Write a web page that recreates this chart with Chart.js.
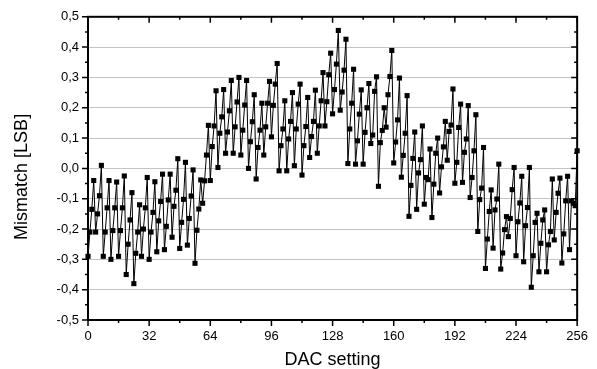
<!DOCTYPE html>
<html>
<head>
<meta charset="utf-8">
<title>DAC mismatch</title>
<script src="https://cdn.jsdelivr.net/npm/chart.js@4/dist/chart.umd.min.js"></script>
<style>
  html, body { margin: 0; padding: 0; background: #fff; }
  #wrap { width: 597px; height: 369px; position: relative; }
</style>
</head>
<body>
<div id="wrap"><canvas id="mismatch-chart"></canvas></div>
<script>
// ===============================================================================
// 1. Data (one value per DAC code)
// ===============================================================================
const dacCodes = Array.from({ length: 257 }, (_, i) => i);

const mismatchLsb = [
  -0.29, -0.21, -0.135, -0.04, -0.21, -0.15, -0.09, 0.01,        // 0
  -0.29, -0.21, -0.13, -0.04, -0.30, -0.205, -0.13, -0.045,      // 8
  -0.29, -0.205, -0.13, -0.025, -0.35, -0.25, -0.17, -0.08,      // 16
  -0.38, -0.28, -0.21, -0.12, -0.29, -0.20, -0.13, -0.03,        // 24
  -0.30, -0.21, -0.145, -0.044, -0.275, -0.173, -0.109, -0.019,  // 32
  -0.268, -0.191, -0.104, -0.019, -0.227, -0.125, -0.072, 0.032, // 40
  -0.264, -0.178, -0.102, 0.02, -0.253, -0.165, -0.091, -0.005,  // 48
  -0.313, -0.204, -0.134, -0.038, -0.115, -0.041, 0.044, 0.142,  // 56
  -0.04, 0.072, 0.14, 0.256, 0.003, 0.116, 0.17, 0.26,           // 64
  0.05, 0.12, 0.19, 0.29, 0.05, 0.137, 0.219, 0.30,              // 72
  0.044, 0.126, 0.209, 0.29, 0.0, 0.088, 0.154, 0.243,           // 80
  -0.035, 0.069, 0.126, 0.215, 0.044, 0.137, 0.215, 0.287,       // 88
  0.104, 0.208, 0.278, 0.346, -0.008, 0.075, 0.13, 0.223,        // 96
  -0.008, 0.097, 0.155, 0.25, 0.009, 0.13, 0.212, 0.278,         // 104
  -0.022, 0.075, 0.138, 0.234, 0.036, 0.105, 0.155, 0.258,       // 112
  0.05, 0.14, 0.223, 0.316, 0.14, 0.22, 0.309, 0.38,             // 120
  0.18, 0.26, 0.344, 0.455, 0.192, 0.252, 0.324, 0.426,          // 128
  0.016, 0.13, 0.215, 0.327, 0.014, 0.091, 0.179, 0.259,         // 136
  0.014, 0.119, 0.2, 0.28, 0.082, 0.11, 0.254, 0.302,            // 144
  -0.059, 0.085, 0.125, 0.2, 0.136, 0.243, 0.303, 0.389,         // 152
  0.018, 0.087, 0.16, 0.298, -0.029, 0.043, 0.116, 0.24,         // 160
  -0.158, -0.056, 0.033, 0.12, -0.135, -0.015, 0.029, 0.14,      // 168
  -0.118, -0.03, -0.037, 0.064, -0.162, -0.052, 0.05, 0.1,       // 176
  -0.081, 0.005, 0.071, 0.155, 0.027, 0.122, 0.143, 0.262,       // 184
  -0.049, 0.02, 0.135, 0.212, -0.046, 0.053, 0.097, 0.207,       // 192
  -0.096, -0.03, 0.058, 0.177, -0.208, -0.103, -0.065, 0.069,    // 200
  -0.33, -0.233, -0.142, -0.071, -0.263, -0.137, -0.101, 0.014,  // 208
  -0.332, -0.279, -0.202, -0.159, -0.225, -0.165, -0.07, 0.003,  // 216
  -0.288, -0.176, -0.114, -0.026, -0.308, -0.189, -0.129, 0.003, // 224
  -0.392, -0.288, -0.178, -0.148, -0.341, -0.247, -0.17, -0.137, // 232
  -0.341, -0.252, -0.208, -0.035, -0.236, -0.145, -0.082, -0.032,// 240
  -0.312, -0.216, -0.107, -0.026, -0.268, -0.107, -0.115, -0.123,// 248
  0.058                                                          // 256
];

const xTickValues = [0, 32, 64, 96, 128, 160, 192, 224, 256];
const yTickValues = [-0.5, -0.4, -0.3, -0.2, -0.1, 0.0, 0.1, 0.2, 0.3, 0.4, 0.5];

const xTitle = 'DAC setting';
const yTitle = 'Mismatch [LSB]';

// ===============================================================================
// 2. Frame + tick marks (Origin style: out on left/bottom, in on top/right)
//    and the y title, which sits a bit below the middle of the axis
// ===============================================================================
function midpoints(list) {
  var out = [];
  for (var i = 0; i < list.length - 1; i++) {
    out.push((list[i] + list[i + 1]) / 2);
  }
  return out;
}

const frameTicks = {
  id: 'frameTicks',
  afterDraw(chart) {
    const ctx = chart.ctx;
    const a = chart.chartArea;
    const xs = chart.scales.x;
    const ys = chart.scales.y;
    const major = 6, minor = 3;

    ctx.save();
    ctx.strokeStyle = '#000';
    ctx.lineWidth = 1.5;

    function tickX(v, len) {
      const px = xs.getPixelForValue(v);
      ctx.beginPath();
      ctx.moveTo(px, a.bottom); ctx.lineTo(px, a.bottom + len);
      ctx.moveTo(px, a.top); ctx.lineTo(px, a.top + len);
      ctx.stroke();
    }
    function tickY(v, len) {
      const py = ys.getPixelForValue(v);
      ctx.beginPath();
      ctx.moveTo(a.left, py); ctx.lineTo(a.left - len, py);
      ctx.moveTo(a.right, py); ctx.lineTo(a.right - len, py);
      ctx.stroke();
    }
    xTickValues.forEach(v => tickX(v, major));
    midpoints(xTickValues).forEach(v => tickX(v, minor));
    yTickValues.forEach(v => tickY(v, major));
    midpoints(yTickValues).forEach(v => tickY(v, minor));

    ctx.lineWidth = 2;
    ctx.strokeRect(a.left, a.top, a.right - a.left, a.bottom - a.top);

    // y title
    ctx.translate(22, ys.getPixelForValue(-0.028));
    ctx.rotate(-Math.PI / 2);
    ctx.fillStyle = '#000';
    ctx.font = '18px "Liberation Sans", Arial, sans-serif';
    ctx.textAlign = 'center';
    ctx.textBaseline = 'middle';
    ctx.fillText(yTitle, 0, 0);
    ctx.restore();
  }
};

// ===============================================================================
// 3. Chart
// ===============================================================================
Chart.defaults.font.family = '"Liberation Sans", Arial, sans-serif';
Chart.defaults.color = '#000';

function commaLabel(v) {
  return v.toFixed(1).replace('.', ',');
}

var chartCanvas = document.getElementById('mismatch-chart');

var newChart = new Chart(chartCanvas, {
  type: 'line',
  data: {
    labels: dacCodes,
    datasets: [{
      data: mismatchLsb,
      borderColor: '#000',
      borderWidth: 1,
      backgroundColor: '#000',
      pointStyle: 'rect',
      pointRadius: 3.6,
      pointBorderWidth: 0,
      pointBackgroundColor: '#000',
      tension: 0,
      clip: false
    }]
  },
  options: {
    responsive: true,
    maintainAspectRatio: false,
    animation: false,
    layout: { padding: { top: 16, right: 19, left: 0, bottom: 0 } },
    plugins: {
      legend: { display: false },
      tooltip: { enabled: false }
    },
    scales: {
      x: {
        type: 'linear',
        min: 0,
        max: 256,
        afterBuildTicks: (scale) => { scale.ticks = xTickValues.map(v => ({ value: v })); },
        afterFit: (scale) => { scale.height = 49; },
        grid: { display: false, drawTicks: false },
        border: { display: false },
        ticks: { font: { size: 13 }, padding: 9, maxRotation: 0, callback: (v) => String(v) },
        title: {
          display: true,
          text: xTitle,
          font: { size: 18, lineHeight: 1 },
          padding: { top: 0, bottom: 0 }
        }
      },
      y: {
        min: -0.5,
        max: 0.5,
        afterBuildTicks: (scale) => { scale.ticks = yTickValues.map(v => ({ value: v })); },
        afterFit: (scale) => { scale.width = 88; },
        grid: {
          drawTicks: false,
          lineWidth: 1,
          color: (c) => (Math.abs(c.tick.value) < 0.45 ? '#c4c4c4' : 'rgba(0,0,0,0)')
        },
        border: { display: false },
        ticks: { font: { size: 13 }, padding: 9, callback: (v) => commaLabel(v) },
        title: { display: false }
      }
    }
  },
  plugins: [frameTicks]
});
</script>
</body>
</html>
